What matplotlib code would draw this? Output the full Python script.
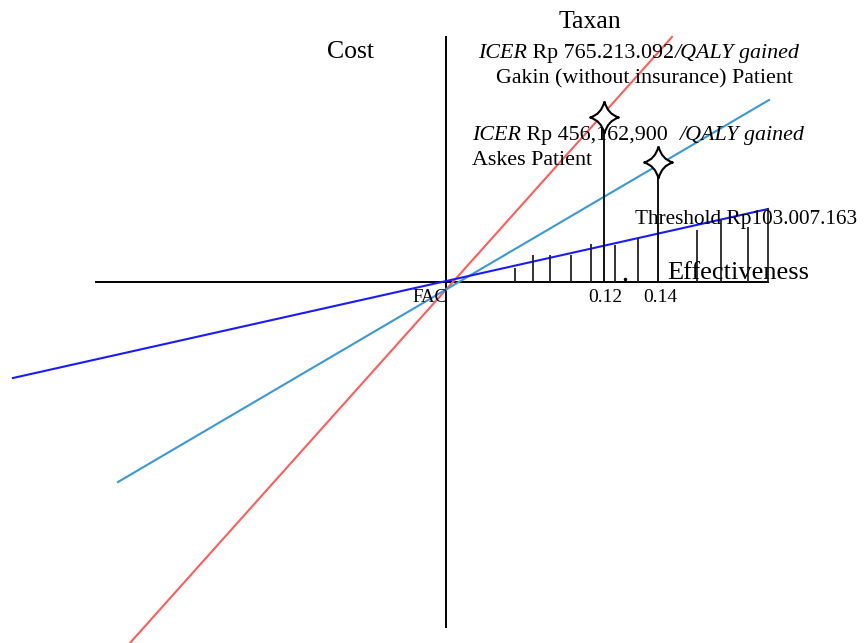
import numpy as np
import matplotlib
matplotlib.use("Agg")
import matplotlib.pyplot as plt
from matplotlib.path import Path

plt.rcParams['font.family'] = ['Liberation Serif', 'DejaVu Serif']

# cost-effectiveness plane, units are arbitrary (origin = FAC)
line_names = ['Gakin', 'Askes', 'Threshold']
line_colors = ['#ff5c5c', '#3a98d8', '#1a1aff']
line_x = [[-316, 226], [-328, 323], [-433, 322]]
line_y = [[-361, 245], [-200, 182], [-96, 73]]

# hatch marks under threshold line
hatch_x = [69, 87, 104, 125, 145, 169, 192, 251, 275, 302, 322]
hatch_top = [14, 27, 27, 27, 38, 37, 44, 52, 62, 55, 74]

# ICER points (stars)
star_x = [158, 212]
star_y = [165, 120]

xaxis_ends = [-350, 322]
yaxis_ends = [-345, 245]

fig = plt.figure(figsize=(8.65, 6.43), dpi=100)
ax = fig.add_axes([0, 0, 1, 1])
ax.set_xlim(-446, 419)
ax.set_ylim(-361, 282)
ax.axis('off')

# axes of the plane
ax.plot(xaxis_ends, [0, 0], color='black', lw=1.4)
ax.plot([0, 0], yaxis_ends, color='black', lw=1.4)

for xs, ys, c in zip(line_x, line_y, line_colors):
    ax.plot(xs, ys, color=c, lw=1.5)

ax.vlines(hatch_x, 0, hatch_top, color='#222222', lw=1.3)
ax.plot([179], [3], marker='o', ms=1.5, color='black')

# 4 pointed star marker
k = 0.2
verts = [(0, 1), (k, k), (0.9, 0), (k, -k), (0, -1), (-k, -k), (-0.9, 0), (-k, k), (0, 1)]
codes = [Path.MOVETO, Path.CURVE3, Path.LINETO, Path.CURVE3, Path.LINETO,
         Path.CURVE3, Path.LINETO, Path.CURVE3, Path.LINETO]
star = Path(verts, codes)

ax.vlines(star_x, 0, star_y, color='black', lw=1.3)
ax.plot(star_x, star_y, ls='none', marker=star, ms=23, mfc='white', mec='black', mew=1.5, zorder=5)


def rich(x, y, parts, size):
    t = ax.text(x, y, parts[0][0], fontsize=size, fontstyle=parts[0][1], va='baseline', ha='left')
    for s, st in parts[1:]:
        t = ax.annotate(s, xy=(1, 0), xycoords=t, fontsize=size, fontstyle=st, va='bottom', ha='left')


ax.text(144, 254, 'Taxan', fontsize=18.5, ha='center', va='baseline')
ax.text(-96, 224, 'Cost', fontsize=18.5, ha='center', va='baseline')
rich(32, 224, [('ICER', 'italic'), (' Rp 765.213.092', 'normal'), ('/QALY gained', 'italic')], 15.8)
ax.text(50, 199, 'Gakin (without insurance) Patient', fontsize=15.8, va='baseline')
rich(26, 142, [('ICER', 'italic'), (' Rp 456,162,900  ', 'normal'), ('/QALY gained', 'italic')], 15.8)
ax.text(26, 117, 'Askes Patient', fontsize=15.8, va='baseline')
ax.text(189, 58, 'Threshold Rp103.007.163', fontsize=15.3, va='baseline')
ax.text(221, 3, 'Effectiveness', fontsize=19, va='baseline')
ax.text(-34, -20, 'FAC', fontsize=13.5, va='baseline')
ax.text(142, -20, '0.12', fontsize=14, va='baseline')
ax.text(197, -20, '0.14', fontsize=14, va='baseline')

fig.savefig('out.png', dpi=100)
